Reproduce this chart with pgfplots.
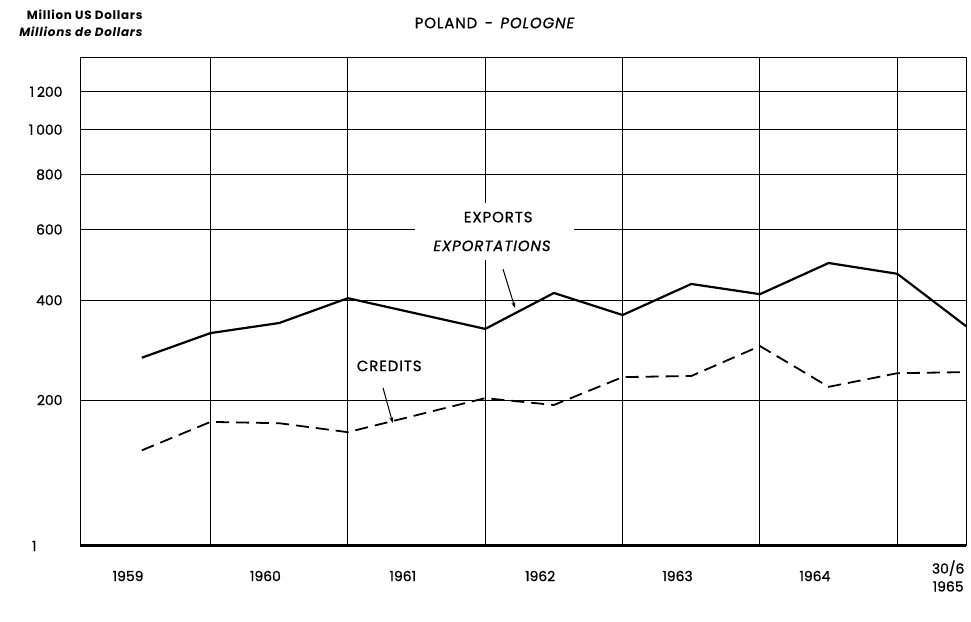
\documentclass[border=0pt]{standalone}
\usepackage{fontspec}
\setmainfont{Poppins}
\newfontfamily\popmed{Poppins}[FakeBold=0.8]
\usepackage{pgfplots}
\pgfplotsset{compat=1.18}
\usetikzlibrary{arrows.meta}

\pgfplotstableread{
x      y
1959.5 275
1960   325
1960.5 347
1961   405
1962   334
1962.5 418
1963   365
1963.5 441
1964   415
1964.5 498
1965   468
1965.5 340
}\exports

\pgfplotstableread{
x      y
1959.5 126
1960   166
1960.5 164
1961   151
1962   203
1962.5 192
1963   239
1963.5 241
1964   298
1964.5 222
1965   246
1965.5 248
}\credits

\newcommand\lbl{\popmed\fontsize{15}{18}\selectfont\addfontfeature{LetterSpace=6}}
\newcommand\tck{\popmed\fontsize{14}{18}\selectfont}

\begin{document}
\begin{tikzpicture}[x=1bp,y=1bp]
\useasboundingbox (0,0) rectangle (971,622);
\begin{axis}[
  at={(80bp,76bp)}, anchor=south west,
  width=886bp, height=488bp, scale only axis,
  xmin=1959.05, xmax=1965.5,
  ymin=21, ymax=1406,
  y coord trafo/.code={\pgfmathparse{ln(#1+200)}},
  y coord inv trafo/.code={\pgfmathparse{exp(#1)-200}},
  axis line style={black, line width=1bp},
  major tick length=0pt,
  ytick={200,400,600,800,1000,1200},
  yticklabels={200,400,600,800,1\hspace{0.2em}000,1\hspace{0.2em}200},
  ymajorgrids,
  grid style={black, line width=1bp},
  yticklabel style={font=\tck, xshift=-14bp},
  extra y ticks={21},
  extra y tick labels={1},
  extra y tick style={grid=none, yticklabel style={xshift=-26bp}},
  xtick={1959.4,1960.4,1961.4,1962.4,1963.4,1964.4,1965.37},
  xticklabels={1959,1960,1961,1962,1963,1964,{30/6\\1965}},
  xticklabel style={font=\tck, align=center, anchor=center, yshift=-30bp},
  extra x ticks={1960,1961,1962,1963,1964,1965},
  extra x tick labels={},
  extra x tick style={grid=major},
  clip=false,
]
\addplot[black, line width=2.2bp, line join=round] table[x=x,y=y]{\exports};
\addplot[black, line width=1.8bp, dash pattern=on 13bp off 7bp] table[x=x,y=y]{\credits};
\draw[line width=3bp] (rel axis cs:0,0) -- (rel axis cs:1,0);
% label boxes
\fill[white] (rel axis cs:0.378,0.586) rectangle (rel axis cs:0.558,0.703);
\node[font=\lbl] at (rel axis cs:0.472,0.674) {EXPORTS};
\node[font=\lbl\itshape] at (rel axis cs:0.465,0.615) {EXPORTATIONS};
\draw[line width=1bp, -{Stealth[length=6bp,width=4bp]}] (rel axis cs:0.4774,0.5676) -- (rel axis cs:0.4910,0.4877);
\fill[white] (rel axis cs:0.310,0.334) rectangle (rel axis cs:0.389,0.412);
\node[font=\lbl] at (rel axis cs:0.349,0.369) {CREDITS};
\draw[line width=1bp, -{Stealth[length=6bp,width=4bp]}] (rel axis cs:0.342,0.324) -- (rel axis cs:0.353,0.252);
\end{axis}
\node[font=\lbl] at (495,599) {POLAND\enspace-\enspace\textit{POLOGNE}};
\node[font=\fontsize{12}{14}\selectfont\bfseries\addfontfeature{LetterSpace=6}, anchor=east] at (146,607) {Million US Dollars};
\node[font=\fontsize{12}{14}\selectfont\bfseries\itshape\addfontfeature{LetterSpace=6}, anchor=east] at (146,590) {Millions de Dollars};
\end{tikzpicture}
\end{document}
